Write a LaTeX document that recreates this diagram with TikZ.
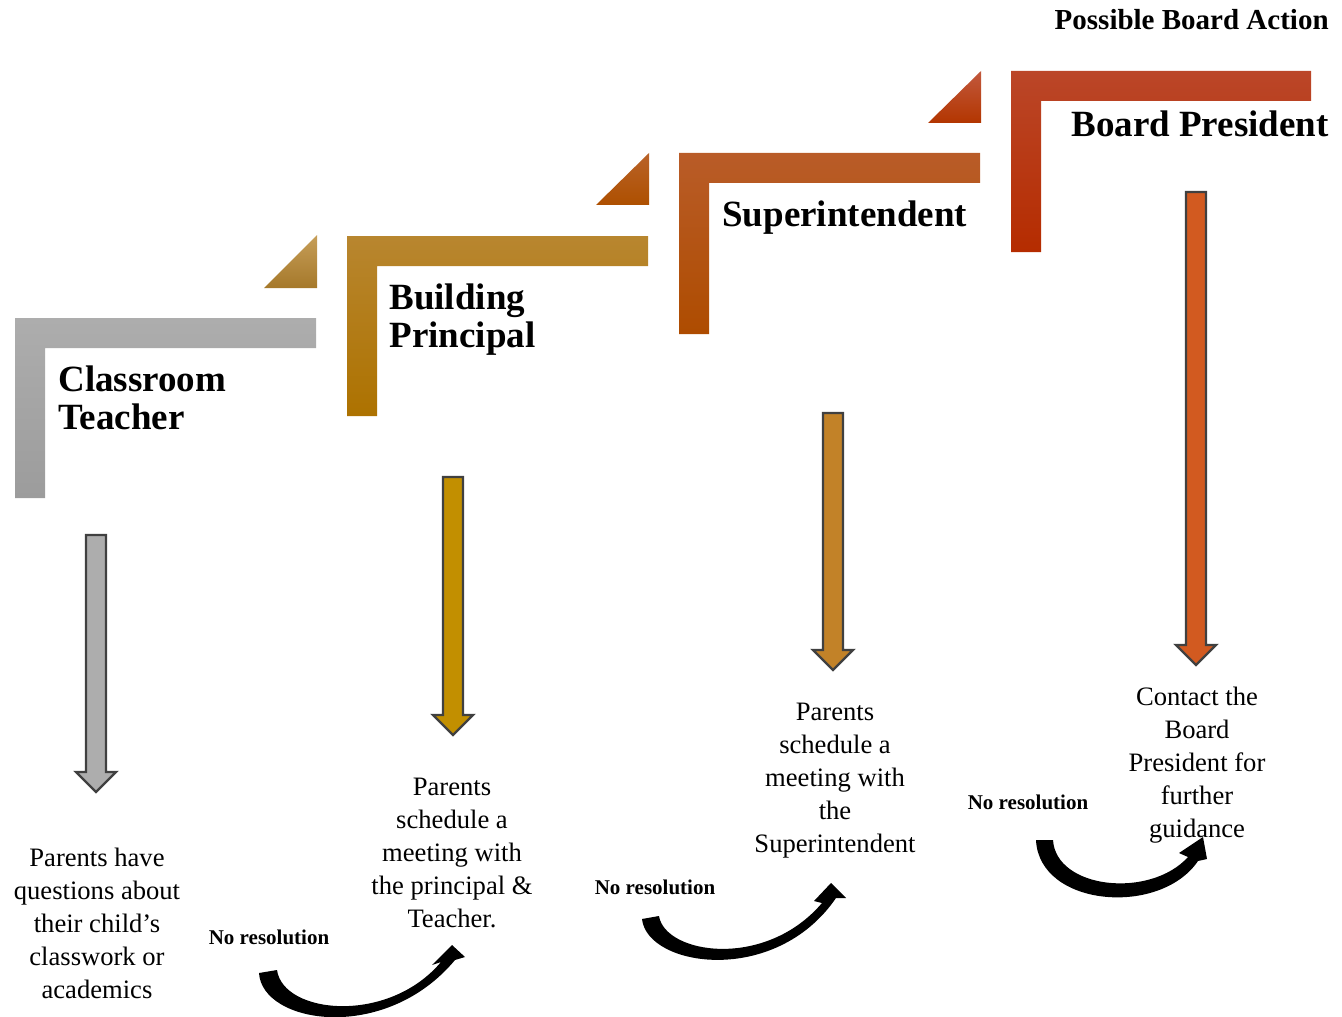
\documentclass[tikz,border=0pt]{standalone}
\usepackage{fontspec}
\setmainfont{Liberation Serif}
\definecolor{greytop}{HTML}{ADADAD}
\definecolor{greybot}{HTML}{9C9C9C}
\definecolor{goldtop}{HTML}{B8862F}
\definecolor{goldbot}{HTML}{AD7200}
\definecolor{rusttop}{HTML}{B95C28}
\definecolor{rustbot}{HTML}{AE4C00}
\definecolor{redtop}{HTML}{BB4628}
\definecolor{redbot}{HTML}{B52C00}
\definecolor{arrowline}{HTML}{404040}
\begin{document}
\begin{tikzpicture}[x=0.5pt, y=-0.5pt,
	heading/.style={font=\fontsize{18.5}{19}\selectfont\bfseries, align=left, anchor=base west, inner sep=0pt},
	body/.style={font=\fontsize{13.3}{16.5}\selectfont, align=center, inner sep=0pt},
	nores/.style={font=\fontsize{10.5}{12}\selectfont\bfseries, inner sep=0pt},
	blockarrow/.style={draw=arrowline, line width=1.2pt, line join=miter}]
			\useasboundingbox (0,0) rectangle (1342,1016);
			% steps
			\shade[top color=greytop, bottom color=greybot] (15,318) -- (316,318) -- (316,348) -- (45,348) -- (45,498) -- (15,498) -- cycle;
			\shade[top color=goldtop, bottom color=goldbot] (347,236) -- (648,236) -- (648,266) -- (377,266) -- (377,416) -- (347,416) -- cycle;
			\shade[top color=rusttop, bottom color=rustbot] (679,153) -- (980,153) -- (980,183) -- (709,183) -- (709,334) -- (679,334) -- cycle;
			\shade[top color=redtop, bottom color=redbot] (1011,71) -- (1311,71) -- (1311,101) -- (1041,101) -- (1041,252) -- (1011,252) -- cycle;
			\shade[top color=goldtop!80!white, bottom color=goldtop!90!black] (264,288) -- (317,288) -- (317,235) -- cycle;
			\shade[top color=rusttop!85!goldtop, bottom color=rustbot!90!goldbot] (596,205) -- (649,205) -- (649,153) -- cycle;
			\shade[top color=redtop!90!white, bottom color=redbot!70!rustbot] (928,123) -- (981,123) -- (981,71) -- cycle;
			\node[heading] (teacher) at (58,429) {Classroom\\Teacher};
			\node[heading] (principal) at (389,347) {Building\\Principal};
			\node[heading] (super) at (722,227) {Superintendent};
			\node[heading] (president) at (1071,137) {Board President};
			\node[font=\fontsize{14.5}{16}\selectfont\bfseries, anchor=east, inner sep=0pt] (board) at (1329,20) {Possible Board Action};
			% down arrows
			\draw[blockarrow, fill=greytop] (86,535) -- (106,535) -- (106,772) -- (116,772) -- (96,792) -- (76,772) -- (86,772) -- cycle;
			\draw[blockarrow, fill={rgb,255:red,194;green,143;blue,0}] (443,477) -- (463,477) -- (463,715) -- (473,715) -- (453,735) -- (433,715) -- (443,715) -- cycle;
			\draw[blockarrow, fill={rgb,255:red,194;green,130;blue,40}] (823,413) -- (843,413) -- (843,650) -- (853,650) -- (833,670) -- (813,650) -- (823,650) -- cycle;
			\draw[blockarrow, fill={rgb,255:red,210;green,90;blue,32}] (1186,192) -- (1206,192) -- (1206,645) -- (1216,645) -- (1196,665) -- (1176,645) -- (1186,645) -- cycle;
			% texts
			\node[body] (ask) at (97,923) {Parents have\\questions about\\their child’s\\classwork or\\academics};
			\node[body] (meetp) at (452,853) {Parents\\schedule a\\meeting with\\the principal \&\\Teacher.};
			\node[body] (meets) at (835,781) {Parents\\schedule a\\meeting with\\the\\Superintendent};
			\node[body] (contact) at (1197,765) {Contact the\\Board\\President for\\further\\guidance};
			\node[nores] (nr1) at (269,937) {No resolution};
			\node[nores] (nr2) at (655,887) {No resolution};
			\node[nores] (nr3) at (1028,802) {No resolution};
			% curved arrows
			\fill (259,973) .. controls (262,1024) and (385,1044) .. (455,960) -- (465,957) -- (452,945) -- (432,965) -- (441,962) .. controls (388,1025) and (283,1014) .. (277,970) -- cycle;
			\fill (642,919) .. controls (647,967) and (775,987) .. (836,898) -- (846,898) -- (831,883) -- (814,901) -- (822,903) .. controls (765,970) and (665,954) .. (659,916) -- cycle;
			\fill (1036,840) .. controls (1039,907) and (1160,917) .. (1198,861) -- (1207,859) -- (1203,837) -- (1179,853) -- (1188,857) .. controls (1150,899) and (1056,889) .. (1053,840) -- cycle;
		\end{tikzpicture}
\end{document}
